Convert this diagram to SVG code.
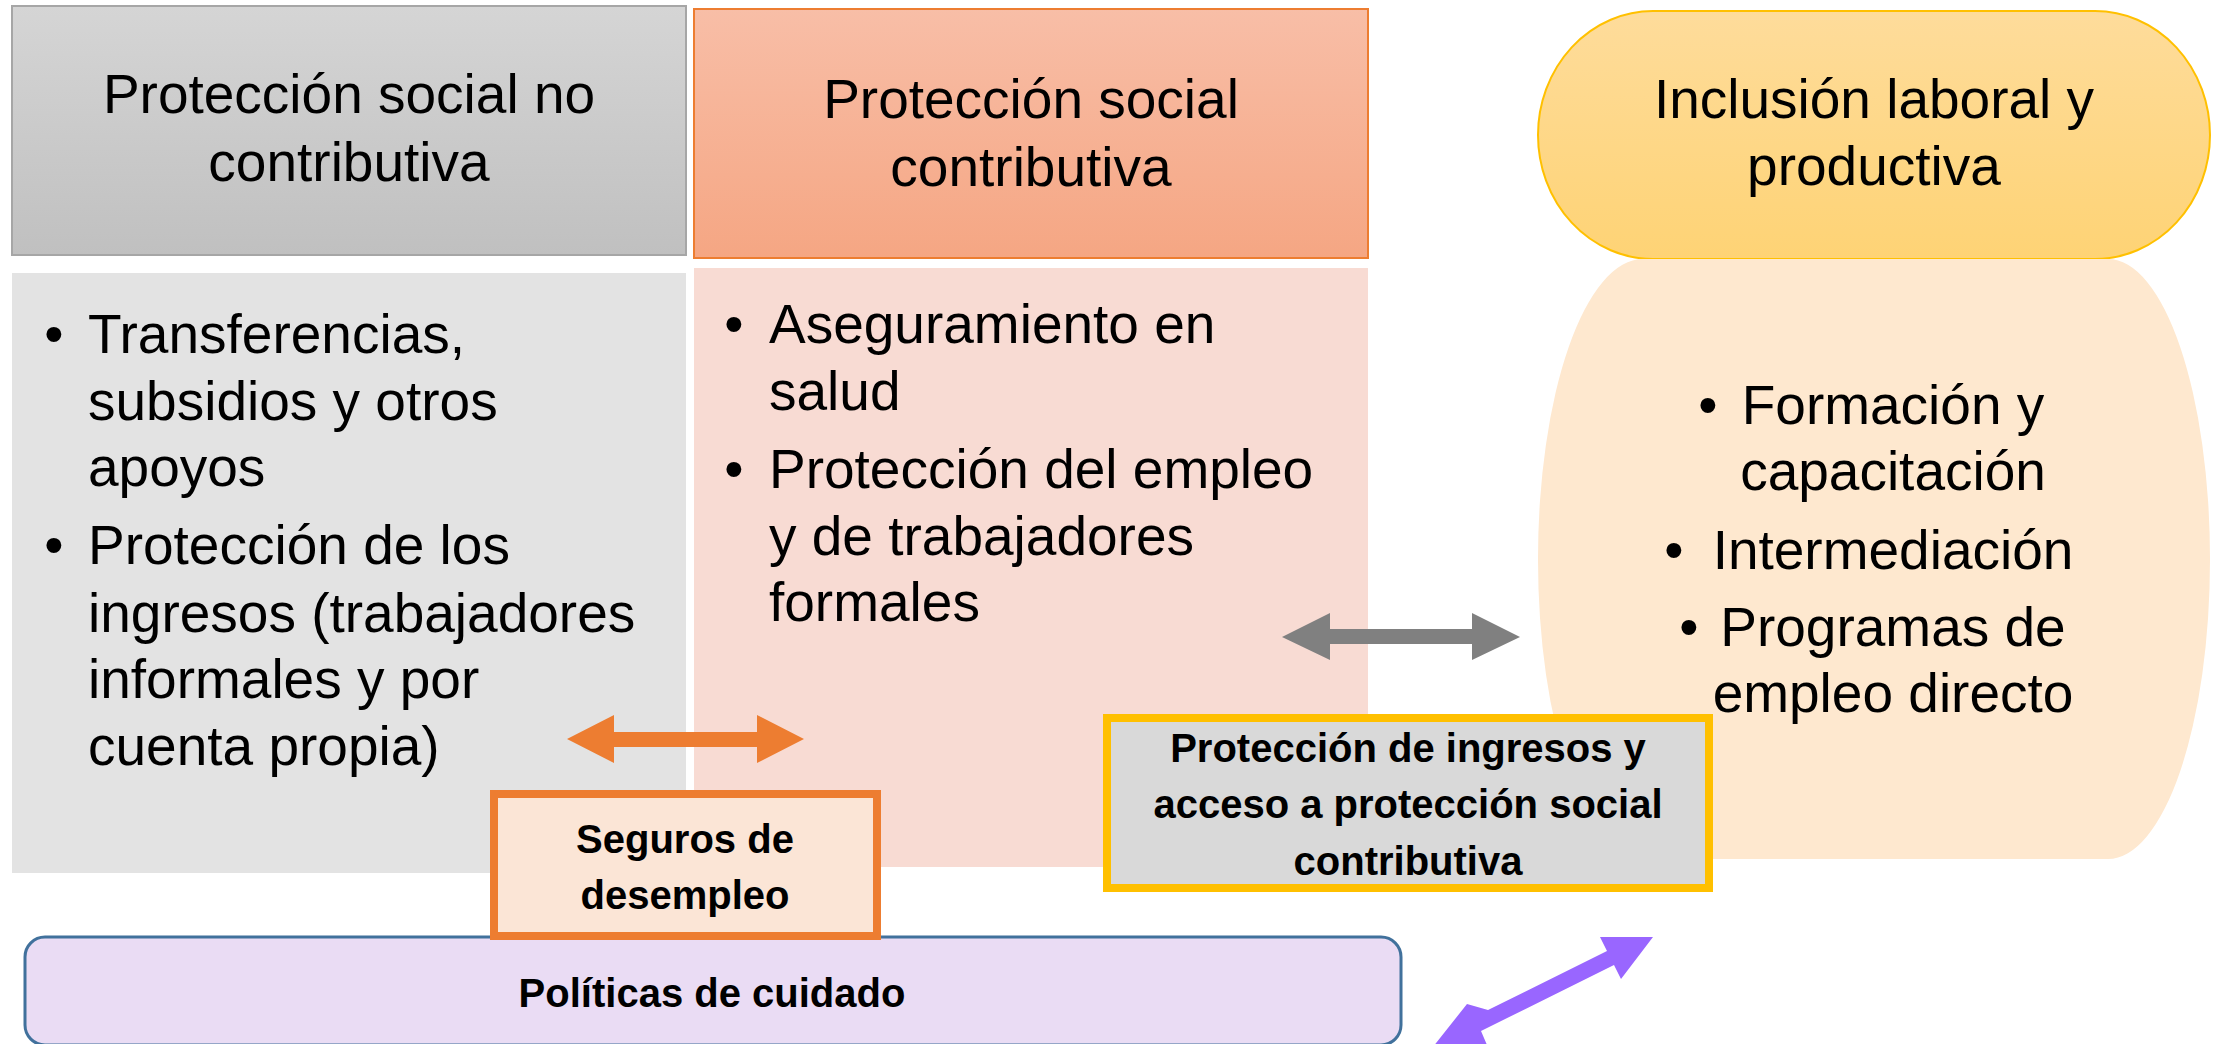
<svg xmlns="http://www.w3.org/2000/svg" width="2221" height="1044" viewBox="0 0 2221 1044">
<style>
.t{font-family:"Liberation Sans",Arial,sans-serif;font-size:55px;fill:#000}
.b{font-family:"Liberation Sans",Arial,sans-serif;font-size:40px;font-weight:bold;fill:#000}
.m{text-anchor:middle}
</style>
<defs>
<linearGradient id="g1" x1="0" y1="0" x2="0" y2="1"><stop offset="0" stop-color="#d5d5d5"/><stop offset="1" stop-color="#c0c0c0"/></linearGradient>
<linearGradient id="g2" x1="0" y1="0" x2="0" y2="1"><stop offset="0" stop-color="#f8bea7"/><stop offset="1" stop-color="#f5a683"/></linearGradient>
<linearGradient id="g3" x1="0" y1="0" x2="0" y2="1"><stop offset="0" stop-color="#fedc9b"/><stop offset="1" stop-color="#fed375"/></linearGradient>
</defs>
<g id="no-contributiva">
<rect x="12" y="6" width="674" height="249" fill="url(#g1)" stroke="#a6a6a6" stroke-width="2"/>
<text class="t m" x="349" y="113">Protección social no</text>
<text class="t m" x="349" y="181">contributiva</text>
<rect x="12" y="273" width="674" height="600" fill="#e3e3e3"/>
<text class="t m" x="54" y="353">•</text>
<text class="t" x="88" y="353">Transferencias,</text>
<text class="t" x="88" y="420">subsidios y otros</text>
<text class="t" x="88" y="486">apoyos</text>
<text class="t m" x="54" y="564">•</text>
<text class="t" x="88" y="564">Protección de los</text>
<text class="t" x="88" y="632">ingresos (trabajadores</text>
<text class="t" x="88" y="698">informales y por</text>
<text class="t" x="88" y="765">cuenta propia)</text>
</g>
<g id="contributiva">
<rect x="694" y="9" width="674" height="249" fill="url(#g2)" stroke="#ed7d31" stroke-width="2"/>
<text class="t m" x="1031" y="118">Protección social</text>
<text class="t m" x="1031" y="186">contributiva</text>
<rect x="694" y="268" width="674" height="599" fill="#f8dbd3"/>
<text class="t m" x="734" y="343">•</text>
<text class="t" x="769" y="343">Aseguramiento en</text>
<text class="t" x="769" y="410">salud</text>
<text class="t m" x="734" y="488">•</text>
<text class="t" x="769" y="488">Protección del empleo</text>
<text class="t" x="769" y="555">y de trabajadores</text>
<text class="t" x="769" y="621">formales</text>
</g>
<g id="inclusion">
<rect x="1538" y="11" width="672" height="248" rx="115" ry="124" fill="url(#g3)" stroke="#ffc000" stroke-width="2"/>
<text class="t m" x="1874" y="118">Inclusión laboral y</text>
<text class="t m" x="1874" y="185">productiva</text>
<path d="M1538,560 A105,300 0 0 1 1643,259 L2108,259 A102,300 0 0 1 2210,560 A102,299 0 0 1 2108,859 L1643,859 A105,299 0 0 1 1538,560 Z" fill="#fee8cf"/>
</g>
<g id="connectors">
<polygon points="1282,637 1330,613 1330,629 1472,629 1472,613 1520,637 1472,660 1472,644 1330,644 1330,660" fill="#808080"/>
<polygon points="567,739 614,715 614,732 757,732 757,715 804,739 757,763 757,747 614,747 614,763" fill="#ed7d31"/>
<path d="M1653,937 L1600,937 L1607,951 L1488,1010 L1467,1004 L1434.5,1045 L1487,1045 L1481,1031 L1614,965 L1621,979 Z" fill="#9966ff"/>
</g>
<g id="inclusion-text">
<text class="t m" x="1708" y="424">•</text>
<text class="t m" x="1893" y="424">Formación y</text>
<text class="t m" x="1893" y="490">capacitación</text>
<text class="t m" x="1674" y="569">•</text>
<text class="t m" x="1893" y="569">Intermediación</text>
<text class="t m" x="1689" y="646">•</text>
<text class="t m" x="1893" y="646">Programas de</text>
<text class="t m" x="1893" y="712">empleo directo</text>
</g>
<g id="proteccion-ingresos">
<rect x="1107" y="718" width="602" height="170" fill="#d9d9d9" stroke="#ffc000" stroke-width="8"/>
<text class="b m" x="1408" y="762">Protección de ingresos y</text>
<text class="b m" x="1408" y="818">acceso a protección social</text>
<text class="b m" x="1408" y="875">contributiva</text>
</g>
<g id="politicas-cuidado">
<rect x="25" y="937" width="1376" height="108" rx="20" ry="20" fill="#eadcf4" stroke="#41719c" stroke-width="3"/>
<text class="b m" x="712" y="1007">Políticas de cuidado</text>
</g>
<g id="seguros-desempleo">
<rect x="494" y="794" width="383" height="142" fill="#fbe5d6" stroke="#ed7d31" stroke-width="8"/>
<text class="b m" x="685" y="853">Seguros de</text>
<text class="b m" x="685" y="909">desempleo</text>
</g>
</svg>
